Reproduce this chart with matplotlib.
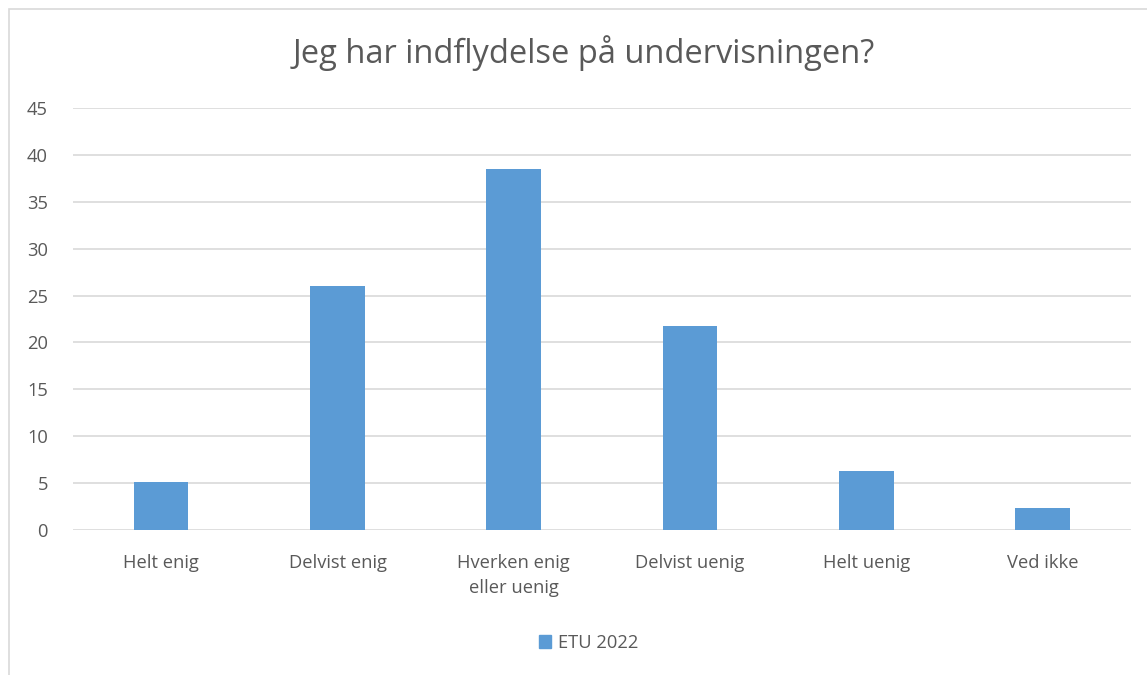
import matplotlib.pyplot as plt
from matplotlib.patches import Rectangle, Patch

kategorier = ['Helt enig', 'Delvist enig', 'Hverken enig\neller uenig',
              'Delvist uenig', 'Helt uenig', 'Ved ikke']
etu_2022 = [5.1, 26.0, 38.5, 21.8, 6.3, 2.4]
y_ticks = [0, 5, 10, 15, 20, 25, 30, 35, 40, 45]

BLAA = '#5b9bd5'
GRAA_TEKST = '#595959'
GRID = '#d9d9d9'

plt.rcParams['font.family'] = ['Open Sans', 'DejaVu Sans']

fig = plt.figure(figsize=(11.47, 6.75), dpi=100)
ax = fig.add_axes([0.0636, 0.2148, 0.9224, 0.6252])

x = range(len(kategorier))
ax.bar(x, etu_2022, width=0.31, color=BLAA, zorder=3, label='ETU 2022')

ax.set_ylim(0, 45)
ax.set_xlim(-0.5, len(kategorier) - 0.5)
ax.set_yticks(y_ticks)
ax.set_xticks(list(x))
ax.set_xticklabels(kategorier, fontsize=13.2, color=GRAA_TEKST, linespacing=1.55)
ax.tick_params(axis='y', length=0, pad=18, labelsize=13.2, labelcolor=GRAA_TEKST)
ax.tick_params(axis='x', length=0, pad=17)
ax.grid(axis='y', color=GRID, linewidth=1.2, zorder=0)
for s in ax.spines.values():
    s.set_visible(False)

fig.text(0.509, 0.922, 'Jeg har indflydelse på undervisningen?', ha='center', va='center',
         fontsize=23.5, color=GRAA_TEKST)

ax.legend(handles=[Patch(color=BLAA, label='ETU 2022')], loc='center',
          bbox_to_anchor=(0.513, 0.047), bbox_transform=fig.transFigure,
          frameon=False, fontsize=13.2, labelcolor=GRAA_TEKST,
          handlelength=0.7, handleheight=0.7, handletextpad=0.35)

# ramme rundt om diagrammet
fig.patches.append(Rectangle((9 / 1147, -0.1), 1.2, 1 - 9 / 675 + 0.1,
                             transform=fig.transFigure, fill=False,
                             edgecolor='#d9d9d9', linewidth=1.2))

fig.savefig('out.png', dpi=100)
